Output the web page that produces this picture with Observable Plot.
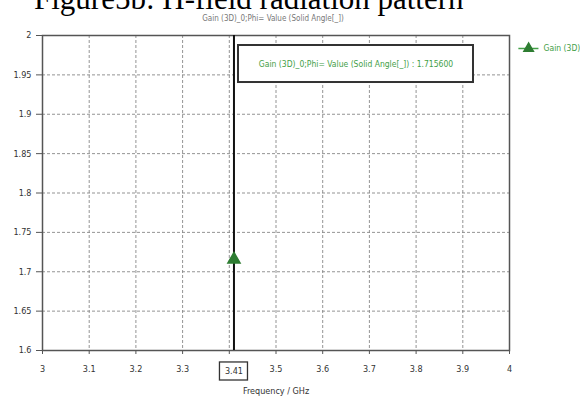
<!DOCTYPE html>
<html>
<head>
<meta charset="utf-8">
<script src="https://cdn.jsdelivr.net/npm/d3@7"></script>
<script src="https://cdn.jsdelivr.net/npm/@observablehq/plot@0.6"></script>
<style>
  body { margin: 0; background: #fff; }
  #wrap { position: relative; width: 580px; height: 403px; overflow: hidden; }
  #title { position: absolute; left: 34px; top: -17px; font-family: "Liberation Serif", "Times New Roman", serif; font-size: 31px; line-height: 1; white-space: nowrap; color: #000; z-index: 2; }
  #sub { position: absolute; left: 0; width: 546px; top: 15px; text-align: center; font-family: "DejaVu Sans Condensed", "DejaVu Sans", sans-serif; font-size: 8px; line-height: 1.1; color: #777; white-space: nowrap; z-index: 2; }
  #chart { position: absolute; left: 0; top: 0; }
</style>
</head>
<body>
<div id="wrap">
  <div id="chart"></div>
  <div id="title">Figure5b: H-field radiation pattern</div>
  <div id="sub"></div>
</div>
<script>
// ---- data ----
const xTicks = [3, 3.1, 3.2, 3.3, 3.4, 3.5, 3.6, 3.7, 3.8, 3.9, 4];
const yTicks = [1.6, 1.65, 1.7, 1.75, 1.8, 1.85, 1.9, 1.95, 2];
const markerFreq = [3.41];
const markerGain = [1.7156];
const seriesName = "Gain (3D)";
const quantityLabel = "Gain (3D)_0;Phi= Value (Solid Angle[_])";
const xAxisLabel = "Frequency / GHz";

const points = markerFreq.map((f, i) => ({ f, g: markerGain[i] }));
const fmt = d => String(+d.toFixed(2));

document.getElementById("sub").textContent = quantityLabel;

const green = "#2e7d32";
const lightGreen = "#43a047";
const font = "'DejaVu Sans Condensed', 'DejaVu Sans', sans-serif";

const chart = Plot.plot({
  width: 580,
  height: 403,
  marginLeft: 42,
  marginRight: 71,
  marginTop: 35,
  marginBottom: 53,
  style: { fontFamily: font, fontSize: "9px", color: "#333", background: "transparent" },
  x: { domain: [3, 4], label: null },
  y: { domain: [1.6, 2], label: null },
  marks: [
    Plot.gridX(xTicks, { stroke: "#888", strokeOpacity: 0.9, strokeDasharray: "3,2" }),
    Plot.gridY(yTicks, { stroke: "#888", strokeOpacity: 0.9, strokeDasharray: "3,2" }),
    Plot.frame({ stroke: "#555", strokeWidth: 1.5 }),
    Plot.axisX(xTicks, {
      tickSize: 4, tickPadding: 11, label: null, stroke: "#555",
      tickFormat: d => (markerFreq.some(m => Math.abs(m - d) < 0.05) ? "" : fmt(d))
    }),
    Plot.axisY(yTicks, { tickSize: 6, tickPadding: 5, label: null, stroke: "#555", tickFormat: fmt }),
    // marker line
    Plot.ruleX(markerFreq, { stroke: "#111", strokeWidth: 2 }),
    Plot.dot(points, { x: "f", y: "g", symbol: "triangle", fill: green, stroke: green, r: 4.5 }),
    // boxed marker frequency on x axis
    Plot.rect(markerFreq, { x1: d => d - 0.03, x2: d => d + 0.03, y1: 1.5619, y2: 1.5848, fill: "white", stroke: "#333", strokeWidth: 1.3 }),
    Plot.text(markerFreq, { x: d => d, y: 1.5733, text: d => fmt(d), fill: "#333", fontSize: 9 }),
    // annotation box
    Plot.rect(points, { x1: 3.4197, x2: 3.9229, y1: 1.9403, y2: 1.9873, fill: "white", stroke: "#333", strokeWidth: 2 }),
    Plot.text(points, { x: 3.6713, y: 1.9638, text: d => `${quantityLabel} : ${d.g.toFixed(6)}`, fill: lightGreen, fontSize: 8.5 }),
    // legend
    Plot.link([seriesName], { x1: 4.019, x2: 4.062, y1: 1.9835, y2: 1.9835, stroke: lightGreen, strokeWidth: 1.5 }),
    Plot.dot([seriesName], { x: 4.041, y: 1.9835, symbol: "triangle", fill: green, stroke: green, r: 3.5 }),
    Plot.text([seriesName], { x: 4.073, y: 1.9835, text: d => d, textAnchor: "start", fill: lightGreen, fontSize: 8.5 }),
    // x axis label
    Plot.text([xAxisLabel], { frameAnchor: "bottom", dy: 43, text: d => d, fill: "#333", fontSize: 9 })
  ]
});
document.getElementById("chart").appendChild(chart);
</script>
</body>
</html>
